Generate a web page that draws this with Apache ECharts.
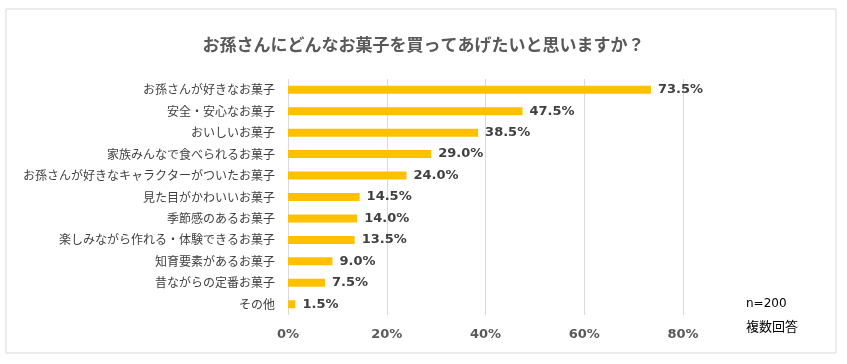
<!DOCTYPE html>
<html><head><meta charset="utf-8">
<script src="https://cdn.jsdelivr.net/npm/echarts@6/dist/echarts.min.js"></script>
<style>html,body{margin:0;padding:0;background:#fff}#c{width:847px;height:364px}</style>
</head><body><div id="c"></div>
<script>
const title = 'お孫さんにどんなお菓子を買ってあげたいと思いますか？';
const categories = ['お孫さんが好きなお菓子','安全・安心なお菓子','おいしいお菓子','家族みんなで食べられるお菓子','お孫さんが好きなキャラクターがついたお菓子','見た目がかわいいお菓子','季節感のあるお菓子','楽しみながら作れる・体験できるお菓子','知育要素があるお菓子','昔ながらの定番お菓子','その他'];
const values = [73.5,47.5,38.5,29.0,24.0,14.5,14.0,13.5,9.0,7.5,1.5];
const noteLines = ['n=200','複数回答'];

const chart = echarts.init(document.getElementById('c'));
const jp = '"Noto Sans CJK JP", "Noto Sans", sans-serif';
chart.setOption({
  backgroundColor:'#fff',
  animation:false,
  title:{text:title,left:'center',top:31,textStyle:{fontFamily:jp,fontSize:17,fontWeight:'bold',color:'#595959'}},
  graphic:[
    {type:'rect',shape:{x:6,y:9,width:830,height:344},style:{fill:'none',stroke:'#d9d9d9',lineWidth:1},silent:true},
    {type:'text',left:746,top:298,style:{text:'{a|'+noteLines[0]+'}\n{b|'+noteLines[1]+'}',
      rich:{a:{fontFamily:'DejaVu Sans',fontSize:12,color:'#404040',lineHeight:22},
            b:{fontFamily:jp,fontSize:13,color:'#404040',lineHeight:22}}}}
  ],
  grid:{left:288,right:164,top:79,bottom:49},
  xAxis:{type:'value',min:0,max:80,interval:20,
    axisLine:{show:false},axisTick:{show:false},
    splitLine:{lineStyle:{color:'#d9d9d9',width:1}},
    axisLabel:{formatter:'{value}%',margin:13,fontFamily:'DejaVu Sans',fontWeight:'bold',fontSize:13,color:'#595959'}},
  yAxis:{type:'category',inverse:true,data:categories,
    axisLine:{show:false},axisTick:{show:false},
    axisLabel:{margin:13,fontFamily:jp,fontSize:12,color:'#404040'}},
  series:[{type:'bar',data:values,barWidth:8,itemStyle:{color:'#FFC000'},
    label:{show:true,position:'right',distance:7,formatter:p=>p.value.toFixed(1)+'%',
      fontFamily:'DejaVu Sans',fontWeight:'bold',fontSize:13,color:'#404040'}}]
});
</script></body></html>
